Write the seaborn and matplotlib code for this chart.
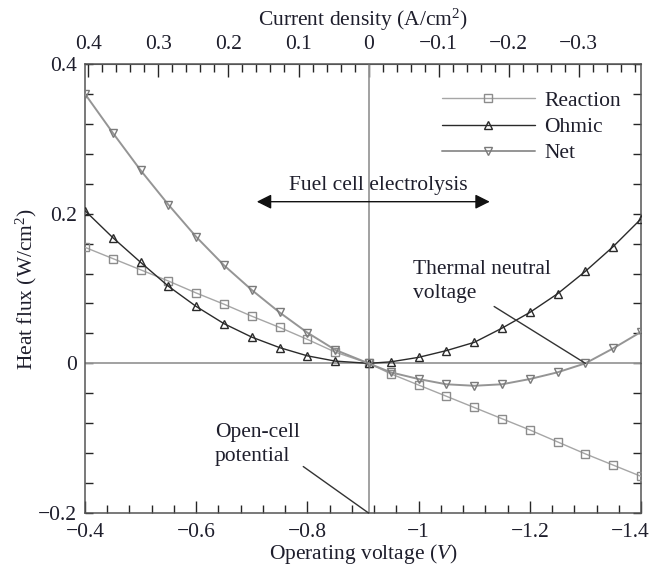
import numpy as np
import pandas as pd
import seaborn as sns
import matplotlib
matplotlib.use("Agg")
import matplotlib.pyplot as plt
from matplotlib.ticker import MultipleLocator, FixedLocator, FuncFormatter
from matplotlib.transforms import ScaledTranslation

# Operating voltage (V) at each computed point
voltage = [-0.40, -0.45, -0.50, -0.55, -0.60, -0.65, -0.70, -0.75, -0.80, -0.85,
           -0.91, -0.95, -1.00, -1.05, -1.10, -1.15, -1.20, -1.25, -1.30, -1.35, -1.40]

# Heat flux components (W/cm^2)
reaction = [0.155, 0.140, 0.125, 0.110, 0.094, 0.079, 0.063, 0.048, 0.032, 0.015,
            0.000, -0.014, -0.029, -0.044, -0.059, -0.074, -0.089, -0.105, -0.121, -0.136, -0.151]
ohmic = [0.204, 0.168, 0.135, 0.103, 0.076, 0.053, 0.035, 0.021, 0.010, 0.003,
         0.000, 0.002, 0.008, 0.017, 0.028, 0.047, 0.068, 0.093, 0.123, 0.156, 0.193]
net = [0.360, 0.308, 0.258, 0.212, 0.169, 0.131, 0.098, 0.068, 0.041, 0.018,
       0.000, -0.012, -0.021, -0.028, -0.030, -0.028, -0.021, -0.012, 0.000, 0.020, 0.042]

# Current density tick values (A/cm^2)
current_ticks = [0.4, 0.3, 0.2, 0.1, 0.0, -0.1, -0.2, -0.3]

open_cell_voltage = -0.91       # V
thermal_neutral_voltage = -1.30 # V
cell_resistance = 1.26          # ohm cm^2, links voltage to current density

series_names = ["Reaction", "Ohmic", "Net"]

sns.set_style("ticks")
plt.rcParams["font.family"] = ["Liberation Serif", "DejaVu Serif"]
plt.rcParams["mathtext.fontset"] = "custom"
plt.rcParams["mathtext.rm"] = "Liberation Serif"
plt.rcParams["mathtext.it"] = "Liberation Serif:italic"
plt.rcParams["axes.unicode_minus"] = True

TXT = "#1e1e2c"
FS = 15.5

fig = plt.figure(figsize=(6.51, 5.72), dpi=100)
ax = fig.add_axes([85 / 651, 1 - 513 / 572, 556 / 651, 449 / 572])

# reference lines through the open-cell point
ax.axhline(0, color="#9a9a9a", lw=1.3, zorder=1)
ax.axvline(open_cell_voltage, color="#9a9a9a", lw=1.3, zorder=1)

df = pd.DataFrame({"V": voltage, "Reaction": reaction, "Ohmic": ohmic, "Net": net})

styles = {
    "Reaction": dict(color="#a6a6a6", marker="s", mec="#8c8c8c", lw=1.0),
    "Ohmic": dict(color="#2a2a2a", marker="^", mec="#2a2a2a", lw=1.0),
    "Net": dict(color="#959595", marker="v", mec="#7a7a7a", lw=1.4),
}
for name in series_names:
    st = styles[name]
    sns.lineplot(data=df, x="V", y=name, ax=ax, color=st["color"], lw=st["lw"],
                 marker=st["marker"], markersize=5.5, markerfacecolor="none",
                 markeredgecolor=st["mec"], markeredgewidth=1.0, label=name, zorder=3)

ax.set_xlim(-0.4, -1.4)
ax.set_ylim(-0.2, 0.4)


def fmt(v, pos=None):
    v = round(v, 6)
    if v == 0:
        return "0"
    return f"{v:g}".replace("-", "\u2212")


ax.xaxis.set_major_locator(MultipleLocator(0.2))
ax.xaxis.set_minor_locator(MultipleLocator(0.04))
ax.yaxis.set_major_locator(MultipleLocator(0.2))
ax.yaxis.set_minor_locator(MultipleLocator(0.04))
ax.xaxis.set_major_formatter(FuncFormatter(fmt))
ax.yaxis.set_major_formatter(FuncFormatter(fmt))
ax.tick_params(axis="x", which="major", direction="in", length=9, width=1.0,
               labelsize=FS, labelcolor=TXT, pad=7, top=False)
ax.tick_params(axis="x", which="minor", direction="in", length=6, width=1.0, top=False)
ax.tick_params(axis="y", which="both", direction="in", length=6, width=1.0,
               right=True, left=True)
ax.tick_params(axis="y", which="major", labelsize=FS, labelcolor=TXT, pad=6)

for sp in ax.spines.values():
    sp.set_color("#555555")
    sp.set_linewidth(1.1)

ax.set_xlabel("Operating voltage ($\\mathit{V}$)", fontsize=FS, color=TXT, labelpad=0.5)
ax.set_ylabel("Heat flux (W/cm$^2$)", fontsize=FS, color=TXT, labelpad=-1)

# keep the last voltage label inside the figure edge
fig.canvas.draw()
for lab in ax.get_xticklabels():
    if lab.get_text() == "\u22121.4":
        lab.set_horizontalalignment("right")
        lab.set_transform(lab.get_transform() + ScaledTranslation(9 / 100, 0, fig.dpi_scale_trans))

# current density axis on top
top = ax.secondary_xaxis(
    "top",
    functions=(lambda v: (np.asarray(v) - open_cell_voltage) / cell_resistance,
               lambda i: open_cell_voltage + cell_resistance * np.asarray(i)),
)
top.xaxis.set_major_locator(FixedLocator(current_ticks))
top.xaxis.set_minor_locator(MultipleLocator(0.02))
top.xaxis.set_major_formatter(FuncFormatter(fmt))
top.tick_params(axis="x", which="major", direction="in", length=9, width=1.0,
                labelsize=FS, labelcolor=TXT, pad=7)
top.tick_params(axis="x", which="minor", direction="in", length=6, width=1.0)
top.spines["top"].set_color("#555555")
top.set_xlabel("Current density (A/cm$^2$)", fontsize=FS, color=TXT, labelpad=7)

leg = ax.legend(loc="upper left", bbox_to_anchor=(0.642, 0.94), frameon=False,
                fontsize=FS, handlelength=4.3, handletextpad=0.45,
                labelspacing=0.28, borderpad=0, borderaxespad=0)
for t in leg.get_texts():
    t.set_color(TXT)

# operating-mode arrow
ax.annotate("", xy=(-0.709, 0.216), xytext=(-1.128, 0.216),
            arrowprops=dict(arrowstyle="<|-|>", color="#111111", lw=1.0,
                            mutation_scale=22, shrinkA=0, shrinkB=0))
ax.text(-0.927, 0.238, "Fuel cell electrolysis", fontsize=FS, color=TXT,
        ha="center", va="center")

# thermal neutral voltage callout
ax.annotate("Thermal neutral\nvoltage", xy=(thermal_neutral_voltage, 0.0),
            xytext=(-0.990, 0.109), fontsize=FS, color=TXT, ha="left", va="center",
            linespacing=1.35,
            arrowprops=dict(arrowstyle="-", color="#333333", lw=1.0,
                            shrinkA=0, shrinkB=0, relpos=(0.52, 0.06)))

# open-cell potential callout
ax.annotate("Open-cell\npotential", xy=(open_cell_voltage, -0.2),
            xytext=(-0.634, -0.109), fontsize=FS, color=TXT, ha="left", va="center",
            linespacing=1.35,
            arrowprops=dict(arrowstyle="-", color="#333333", lw=1.0,
                            shrinkA=0, shrinkB=0, relpos=(1.0, 0.05)))

fig.savefig("out.png", dpi=100)
